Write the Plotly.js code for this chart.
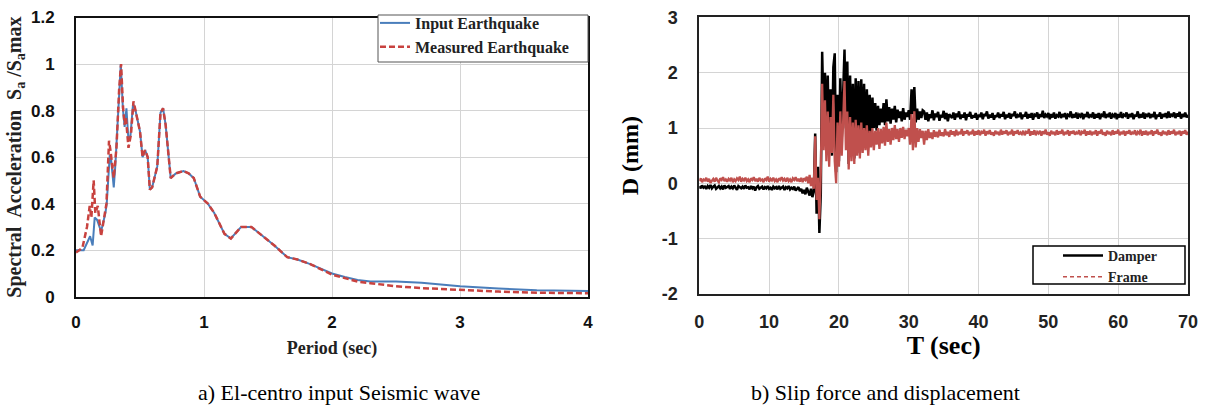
<!DOCTYPE html>
<html>
<head>
<meta charset="utf-8">
<script src="https://cdn.plot.ly/plotly-3.0.1.min.js"></script>
<style>html,body{margin:0;padding:0;background:#fff;}#chart{width:1206px;height:409px;}</style>
</head>
<body>
<div id="chart"></div>
<script>
// ---- Chart a) El-centro response spectrum ----
const periodInput = [0.00,0.03,0.06,0.11,0.13,0.146,0.165,0.196,0.23,0.24,0.264,0.274,0.295,0.308,0.334,0.35,0.366,0.38,0.394,0.41,0.425,0.446,0.465,0.50,0.52,0.54,0.56,0.577,0.595,0.635,0.66,0.68,0.70,0.74,0.78,0.84,0.88,0.92,0.97,1.03,1.08,1.16,1.21,1.29,1.37,1.44,1.55,1.65,1.73,1.83,1.92,2.0,2.1,2.2,2.3,2.5,2.7,3.0,3.3,3.6,4.0];
const saInput = [0.20,0.20,0.20,0.26,0.22,0.34,0.33,0.28,0.36,0.40,0.61,0.59,0.47,0.57,0.81,1.00,0.81,0.73,0.81,0.67,0.69,0.83,0.80,0.71,0.60,0.63,0.60,0.46,0.47,0.56,0.79,0.81,0.74,0.51,0.53,0.54,0.53,0.51,0.43,0.40,0.36,0.27,0.25,0.30,0.30,0.27,0.22,0.17,0.16,0.14,0.12,0.10,0.085,0.072,0.065,0.065,0.06,0.045,0.035,0.028,0.025];
const periodMeasured = [0.00,0.05,0.086,0.107,0.12,0.138,0.151,0.17,0.196,0.217,0.238,0.258,0.269,0.295,0.316,0.337,0.352,0.368,0.38,0.39,0.41,0.43,0.449,0.465,0.50,0.52,0.54,0.56,0.577,0.595,0.635,0.66,0.68,0.70,0.74,0.78,0.84,0.88,0.92,0.97,1.03,1.08,1.16,1.21,1.29,1.37,1.44,1.55,1.65,1.73,1.83,1.92,2.0,2.1,2.2,2.3,2.5,2.7,3.0,3.3,3.6,4.0];
const saMeasured = [0.19,0.21,0.30,0.39,0.34,0.50,0.36,0.39,0.26,0.33,0.40,0.67,0.63,0.51,0.64,0.89,1.00,0.81,0.74,0.77,0.64,0.70,0.84,0.80,0.71,0.60,0.63,0.60,0.46,0.47,0.56,0.79,0.81,0.74,0.51,0.53,0.54,0.53,0.51,0.43,0.40,0.36,0.27,0.25,0.30,0.30,0.27,0.22,0.17,0.16,0.14,0.115,0.095,0.08,0.065,0.058,0.045,0.037,0.028,0.022,0.017,0.015];
const periodTicks = [0, 1, 2, 3, 4];
const periodTickText = ['0', '1', '2', '3', '4'];
const saTicks = [0, 0.2, 0.4, 0.6, 0.8, 1, 1.2];
const saTickText = ['0', '0.2', '0.4', '0.6', '0.8', '1', '1.2'];

// ---- Chart b) displacement time history, sampled every 0.2 s from 0 s ----
const timeStart = 0;
const timeStep = 0.2;
const timeTicks = [0, 10, 20, 30, 40, 50, 60, 70];
const timeTickText = ['0', '10', '20', '30', '40', '50', '60', '70'];
const dispTicks = [-2, -1, 0, 1, 2, 3];
const dispTickText = ['-2', '-1', '0', '1', '2', '3'];
const damperPre = [-0.05,-0.09,-0.04,-0.08,-0.06,-0.10,-0.05,-0.08,-0.03,-0.09,
-0.06,-0.04,-0.10,-0.07,-0.05,-0.09,-0.06,-0.11,-0.04,-0.08,
-0.07,-0.05,-0.10,-0.06,-0.09,-0.04,-0.08,-0.12,-0.05,-0.07,
-0.09,-0.06,-0.10,-0.04,-0.08,-0.07,-0.11,-0.05,-0.09,-0.06,
-0.13,-0.07,-0.05,-0.10,-0.08,-0.06,-0.11,-0.07,-0.09,-0.05,
-0.10,-0.08,-0.12,-0.06,-0.09,-0.07,-0.11,-0.05,-0.10,-0.08,
-0.06,-0.12,-0.07,-0.09,-0.05,-0.11,-0.08,-0.10,-0.06,-0.13,
-0.09,-0.07,-0.14,-0.10,-0.18,-0.12,-0.20,-0.08,-0.15,-0.22,
-0.10,-0.25,-0.15];
const damperQuake = [0.90,-0.55,0.30,-0.90,-0.20,2.38,1.20,2.00,0.90,1.95,
0.60,1.70,0.50,2.10,2.35,0.20,1.60,0.40,1.90,0.80,
1.50,2.42,1.00,2.20,0.35,1.95,0.60,1.80,0.45,1.90,
0.70,1.85,0.55,1.88,0.80,1.80,0.75,1.70,0.90,1.60,
0.85,1.55,1.00,1.45,0.95,1.40,1.05,1.35,1.10,1.45,
1.05,1.52,1.12,1.38,1.08,1.35,1.15,1.40,1.10,1.33,
1.18,1.30,1.12,1.36,1.15,1.28,1.20,1.32,1.15,1.70,
1.25,1.74,1.10,1.35,1.15,1.30,1.18,1.32];
const damperPost = [1.30,1.15,1.28,1.12,1.25,1.18,1.32,1.14,1.26,1.20,
1.29,1.13,1.24,1.19,1.31,1.16,1.27,1.12,1.25,1.21,
1.18,1.28,1.15,1.26,1.20,1.30,1.16,1.24,1.19,1.28,
1.14,1.25,1.21,1.29,1.17,1.23,1.19,1.27,1.15,1.24,
1.20,1.28,1.16,1.25,1.22,1.30,1.17,1.24,1.19,1.27,
1.15,1.23,1.20,1.28,1.18,1.25,1.21,1.29,1.16,1.24,
1.19,1.27,1.17,1.25,1.22,1.30,1.18,1.23,1.20,1.28,
1.16,1.24,1.21,1.29,1.17,1.25,1.19,1.27,1.15,1.24,
1.22,1.28,1.17,1.25,1.20,1.31,1.18,1.24,1.21,1.27,
1.16,1.25,1.19,1.28,1.17,1.23,1.21,1.29,1.18,1.25,
1.20,1.27,1.16,1.24,1.22,1.30,1.18,1.25,1.19,1.28,
1.17,1.24,1.21,1.27,1.16,1.25,1.20,1.29,1.18,1.23,
1.21,1.28,1.17,1.25,1.19,1.27,1.16,1.24,1.22,1.30,
1.18,1.25,1.20,1.28,1.17,1.24,1.21,1.27,1.16,1.25,
1.19,1.29,1.18,1.24,1.22,1.28,1.17,1.25,1.20,1.27,
1.16,1.24,1.21,1.30,1.18,1.25,1.19,1.28,1.17,1.24,
1.22,1.27,1.18,1.25,1.20,1.29,1.16,1.24,1.21,1.28,
1.17,1.25,1.20,1.27,1.18,1.30,1.19,1.24,1.22,1.28,
1.18,1.26,1.21,1.29,1.17,1.25,1.20,1.28,1.19,1.24];
const framePre = [0.04,0.09,0.02,0.07,0.05,0.10,0.03,0.08,0.01,0.06,
0.08,0.03,0.10,0.05,0.02,0.09,0.06,0.11,0.04,0.07,
0.03,0.08,0.05,0.10,0.02,0.07,0.04,0.09,0.06,0.12,
0.03,0.08,0.05,0.10,0.04,0.07,0.02,0.09,0.06,0.11,
0.04,0.08,0.03,0.10,0.05,0.07,0.02,0.09,0.06,0.12,
0.03,0.08,0.05,0.10,0.04,0.07,0.02,0.09,0.06,0.11,
0.05,0.08,0.03,0.10,0.04,0.07,0.02,0.09,0.06,0.11,
0.04,0.08,0.03,0.10,0.02,0.09,0.06,0.12,0.00,0.15,
-0.05,0.10,-0.10];
const frameQuake = [0.85,-0.30,0.10,-0.65,0.20,1.80,0.60,1.50,0.40,1.30,
0.30,1.20,0.55,1.60,0.40,0.00,1.10,0.30,1.30,0.50,
1.10,1.85,0.60,1.30,0.25,1.20,0.40,1.10,0.35,1.15,
0.50,1.05,0.45,1.10,0.55,1.00,0.60,1.05,0.50,0.95,
0.65,1.00,0.60,0.95,0.70,1.00,0.62,0.98,0.72,1.02,
0.68,1.10,0.75,0.98,0.70,1.00,0.78,1.05,0.80,0.98,
0.75,1.00,0.82,1.02,0.80,0.97,0.85,1.00,0.70,1.25,
0.60,1.30,0.65,1.00,0.75,0.98,0.82,0.95];
const framePost = [0.70,0.95,0.78,0.98,0.82,0.92,0.80,0.96,0.84,0.93,
0.83,0.97,0.86,0.92,0.85,0.98,0.87,0.93,0.84,0.96,
0.88,0.94,0.85,0.97,0.87,0.93,0.89,0.98,0.86,0.94,
0.90,0.96,0.87,0.93,0.89,0.97,0.86,0.94,0.88,0.96,
0.87,0.93,0.90,0.97,0.86,0.94,0.89,0.96,0.88,0.92,
0.86,0.95,0.89,0.93,0.87,0.97,0.88,0.94,0.90,0.96,
0.87,0.93,0.89,0.97,0.86,0.94,0.90,0.96,0.88,0.92,
0.89,0.95,0.87,0.93,0.90,0.98,0.86,0.94,0.88,0.96,
0.87,0.93,0.90,0.95,0.86,0.94,0.89,0.97,0.88,0.92,
0.86,0.95,0.89,0.93,0.87,0.96,0.88,0.94,0.90,0.97,
0.87,0.93,0.89,0.96,0.86,0.94,0.90,0.95,0.88,0.92,
0.89,0.96,0.87,0.93,0.90,0.97,0.86,0.94,0.88,0.95,
0.87,0.93,0.89,0.96,0.86,0.94,0.90,0.97,0.88,0.92,
0.86,0.95,0.89,0.93,0.87,0.96,0.88,0.94,0.90,0.97,
0.87,0.93,0.89,0.95,0.86,0.94,0.90,0.96,0.88,0.92,
0.89,0.96,0.87,0.93,0.90,0.97,0.86,0.94,0.88,0.95,
0.87,0.93,0.89,0.96,0.86,0.94,0.90,0.97,0.88,0.92,
0.86,0.95,0.89,0.93,0.87,0.96,0.88,0.94,0.90,0.97,
0.87,0.93,0.89,0.95,0.86,0.94,0.90,0.96,0.88,0.93];
const damperDisp = damperPre.concat(damperQuake, damperPost);
const frameDisp = framePre.concat(frameQuake, framePost);

const captionA = 'a) El-centro input Seismic wave';
const captionB = 'b) Slip force and displacement';

const SERIF = '"Liberation Serif", "Times New Roman", serif';
const SANS = '"Liberation Sans", Arial, sans-serif';
const tickFontA = {family: SANS, size: 17, color: '#111'};
const tickFontB = {family: SANS, size: 18, color: '#222'};
const gridColor = '#d4d4d4';
const bold = arr => arr.map(s => '<b>' + s + '</b>');
const px = v => v / 1206;
const py = v => 1 - v / 409;

const traces = [
  {x: periodInput, y: saInput, type: 'scatter', mode: 'lines', name: 'Input Earthquake',
   line: {color: '#4a7ebb', width: 2}, xaxis: 'x', yaxis: 'y', legend: 'legend'},
  {x: periodMeasured, y: saMeasured, type: 'scatter', mode: 'lines', name: 'Measured Earthquake',
   line: {color: '#c8423f', width: 2.5, dash: '6px,3px'}, xaxis: 'x', yaxis: 'y', legend: 'legend'},
  {x0: timeStart, dx: timeStep, y: damperDisp, type: 'scatter', mode: 'lines', name: 'Damper',
   line: {color: '#000', width: 2.5}, xaxis: 'x2', yaxis: 'y2', legend: 'legend2'},
  {x0: timeStart, dx: timeStep, y: frameDisp, type: 'scatter', mode: 'lines', name: 'Frame',
   line: {color: '#c0504d', width: 2.3}, xaxis: 'x2', yaxis: 'y2', legend: 'legend2', showlegend: false},
  {x: [null], y: [null], type: 'scatter', mode: 'lines', name: 'Frame',
   line: {color: '#c0504d', width: 1.4, dash: '4px,3px'}, xaxis: 'x2', yaxis: 'y2', legend: 'legend2'}
];

const layout = {
  width: 1206, height: 409,
  margin: {l: 0, r: 0, t: 0, b: 0},
  paper_bgcolor: '#fff', plot_bgcolor: '#fff',
  showlegend: true,
  xaxis: {
    domain: [px(76), px(588)], range: [0, 4], anchor: 'y',
    tickmode: 'array', tickvals: periodTicks, ticktext: bold(periodTickText),
    showgrid: true, gridcolor: gridColor, zeroline: false,
    showline: true, mirror: true, linecolor: '#111', linewidth: 2,
    ticks: '', tickfont: tickFontA, ticklabelstandoff: 9,
    title: {text: '<b>Period (sec)</b>', font: {family: SERIF, size: 18, color: '#222'}, standoff: 10}
  },
  yaxis: {
    domain: [py(296.7), py(17.5)], range: [0, 1.2], anchor: 'x',
    tickmode: 'array', tickvals: saTicks, ticktext: bold(saTickText),
    showgrid: true, gridcolor: gridColor, zeroline: false,
    showline: true, mirror: true, linecolor: '#111', linewidth: 2,
    ticks: '', tickfont: tickFontA, ticklabelstandoff: 16,
    title: {text: '<b>Spectral  Acceleration  S<sub>a</sub> /S<sub>a</sub>max</b>', font: {family: SERIF, size: 20, color: '#222'}, standoff: 4}
  },
  xaxis2: {
    domain: [px(699.3), px(1188)], range: [0, 70], anchor: 'y2',
    tickmode: 'array', tickvals: timeTicks, ticktext: bold(timeTickText),
    showgrid: true, gridcolor: gridColor, zeroline: false,
    showline: true, mirror: true, linecolor: '#222', linewidth: 2,
    ticks: '', tickfont: tickFontB, ticklabelstandoff: 10,
    title: {text: '<b>T (sec)</b>', font: {family: SERIF, size: 26, color: '#000'}, standoff: 4}
  },
  yaxis2: {
    domain: [py(293.9), py(17.4)], range: [-2, 3], anchor: 'x2',
    tickmode: 'array', tickvals: dispTicks, ticktext: bold(dispTickText),
    showgrid: true, gridcolor: gridColor, zeroline: false,
    showline: true, mirror: true, linecolor: '#222', linewidth: 2,
    ticks: '', tickfont: tickFontB, ticklabelstandoff: 16,
    title: {text: '<b>D (mm)</b>', font: {family: SERIF, size: 24, color: '#000'}, standoff: 16}
  },
  legend: {
    x: px(375), y: py(6), xanchor: 'left', yanchor: 'top',
    bgcolor: 'rgba(0,0,0,0)', borderwidth: 0,
    font: {family: SERIF, size: 16, color: '#222', weight: 'bold'},
    tracegroupgap: 0, itemwidth: 30
  },
  legend2: {
    x: px(1058), y: py(240), xanchor: 'left', yanchor: 'top',
    bgcolor: 'rgba(0,0,0,0)', borderwidth: 0,
    font: {family: SERIF, size: 14, color: '#222', weight: 'bold'},
    tracegroupgap: 0, itemwidth: 40
  },
  shapes: [
    {type: 'rect', xref: 'paper', yref: 'paper', x0: px(378), x1: px(588), y0: py(62), y1: py(15),
     fillcolor: '#fff', line: {color: '#555', width: 1}, layer: 'above'},
    {type: 'rect', xref: 'paper', yref: 'paper', x0: px(1033), x1: px(1185), y0: py(284), y1: py(246),
     fillcolor: '#fff', line: {color: '#000', width: 1.5}, layer: 'above'}
  ],
  annotations: [
    {text: captionA, xref: 'paper', yref: 'paper', x: px(339), y: py(392), xanchor: 'center', yanchor: 'middle',
     showarrow: false, font: {family: SERIF, size: 22, color: '#000'}},
    {text: captionB, xref: 'paper', yref: 'paper', x: px(885), y: py(392), xanchor: 'center', yanchor: 'middle',
     showarrow: false, font: {family: SERIF, size: 22, color: '#000'}}
  ]
};

Plotly.newPlot('chart', traces, layout, {displayModeBar: false, staticPlot: true});
</script>
</body>
</html>
